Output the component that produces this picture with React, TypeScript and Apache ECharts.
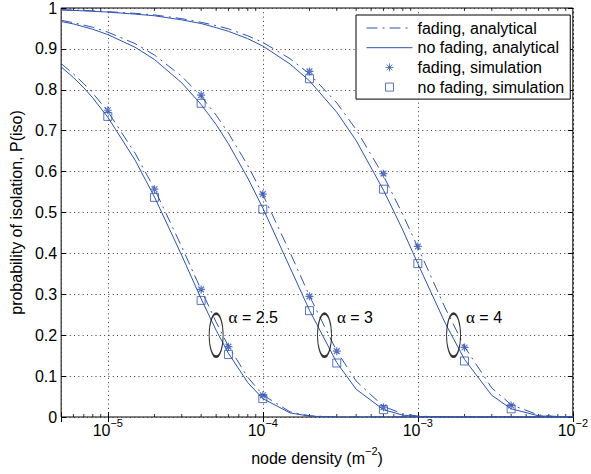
import React, { useEffect, useRef } from 'react';
import * as echarts from 'echarts';

// node densities (m^-2) at which the analytical curves are drawn
const densities = [
  5e-6, 6e-6, 7e-6, 8e-6, 1e-5, 1.5e-5, 2e-5, 3e-5, 4e-5, 5e-5, 6e-5, 8e-5,
  1e-4, 1.5e-4, 2e-4, 3e-4, 4e-4, 6e-4, 8e-4, 1e-3, 1.5e-3, 2e-3, 3e-3, 4e-3,
  6e-3, 8e-3, 1e-2,
];

// analytical curves
const fadingA25 = [0.864, 0.839, 0.815, 0.792, 0.747, 0.645, 0.558, 0.416, 0.311, 0.232, 0.173, 0.097, 0.054, 0.0125, 0.003, 0, 0, 0, 0, 0, 0, 0, 0, 0, 0, 0, 0];
const noFadingA25 = [0.856, 0.83, 0.805, 0.78, 0.733, 0.628, 0.538, 0.395, 0.289, 0.212, 0.156, 0.084, 0.045, 0.01, 0.002, 0, 0, 0, 0, 0, 0, 0, 0, 0, 0, 0, 0];
const fadingA3 = [0.97, 0.964, 0.958, 0.953, 0.941, 0.913, 0.885, 0.833, 0.784, 0.738, 0.694, 0.615, 0.544, 0.402, 0.296, 0.161, 0.088, 0.026, 0.0077, 0.0023, 0, 0, 0, 0, 0, 0, 0];
const noFadingA3 = [0.967, 0.961, 0.954, 0.948, 0.935, 0.904, 0.874, 0.817, 0.764, 0.715, 0.668, 0.584, 0.511, 0.365, 0.261, 0.133, 0.068, 0.018, 0.0046, 0.0012, 0, 0, 0, 0, 0, 0, 0];
const fadingA4 = [0.996, 0.995, 0.994, 0.993, 0.991, 0.987, 0.983, 0.974, 0.965, 0.957, 0.949, 0.932, 0.916, 0.876, 0.839, 0.768, 0.703, 0.59, 0.495, 0.415, 0.267, 0.172, 0.071, 0.03, 0.005, 0.001, 0.0002];
const noFadingA4 = [0.995, 0.994, 0.993, 0.992, 0.99, 0.985, 0.981, 0.971, 0.962, 0.952, 0.943, 0.925, 0.907, 0.863, 0.822, 0.745, 0.676, 0.555, 0.457, 0.375, 0.23, 0.141, 0.053, 0.02, 0.003, 0.0004, 0];

// simulation points
const simX = [1e-5, 2e-5, 4e-5, 6e-5, 1e-4, 4e-5, 1e-4, 2e-4, 3e-4, 6e-4, 2e-4, 6e-4, 1e-3, 2e-3, 4e-3];
const simFading = [0.75, 0.557, 0.312, 0.172, 0.053, 0.787, 0.545, 0.295, 0.161, 0.024, 0.845, 0.595, 0.417, 0.17, 0.028];
const simNoFading = [0.735, 0.537, 0.285, 0.153, 0.045, 0.767, 0.508, 0.26, 0.132, 0.018, 0.827, 0.557, 0.375, 0.137, 0.02];

// annotations (ellipse centres and labels)
const annotX = [5e-5, 2.5e-4, 1.7e-3];
const annotY = [0.2, 0.2, 0.2];
const annotText = ['2.5', '3', '4'];

// minor log-decade positions (2..9 x 10^k)
const minorX = [
  6e-6, 7e-6, 8e-6, 9e-6,
  2e-5, 3e-5, 4e-5, 5e-5, 6e-5, 7e-5, 8e-5, 9e-5,
  2e-4, 3e-4, 4e-4, 5e-4, 6e-4, 7e-4, 8e-4, 9e-4,
  2e-3, 3e-3, 4e-3, 5e-3, 6e-3, 7e-3, 8e-3, 9e-3,
];

const legendNames = ['fading, analytical', 'no fading, analytical', 'fading, simulation', 'no fading, simulation'];

const BLUE = '#2f52b4';
const FONT = 'Liberation Sans';
const DASHDOT = [11, 5, 2, 5];
const STAR = 'path://M0,-5L0,5M-5,0L5,0M-3.6,-3.6L3.6,3.6M-3.6,3.6L3.6,-3.6';
const SQUARE = 'path://M0,0L10,0L10,10L0,10Z';
const ELLIPSE = 'path://M0,-1A1,1 0 1,1 0,1A1,1 0 1,1 0,-1Z';

const zip = (xs: number[], ys: number[]) => xs.map((x, i) => [x, ys[i]]);

const supRich = {
  b: { fontSize: 16, lineHeight: 16, verticalAlign: 'bottom', color: '#000', fontFamily: FONT },
  s: { fontSize: 11, lineHeight: 11, padding: [0, 0, 10, 0], verticalAlign: 'bottom', color: '#000', fontFamily: FONT },
};

function lineSeries(name: string, ys: number[], dashed: boolean) {
  return {
    name,
    type: 'line',
    data: zip(densities, ys),
    symbol: 'none',
    showSymbol: false,
    color: BLUE,
    lineStyle: { width: 1, color: BLUE, type: dashed ? DASHDOT : 'solid' },
    z: 3,
    silent: true,
  };
}

export default function App() {
  const ref = useRef<HTMLDivElement>(null);
  useEffect(() => {
    const chart = echarts.init(ref.current!, null, { renderer: 'svg' });
    const tickData: any[] = [];
    minorX.forEach((x) => {
      tickData.push({ value: [x, 0], symbolOffset: [0, -1.5] });
      tickData.push({ value: [x, 1], symbolOffset: [0, 1.5] });
    });
    const logFormatter = (v: number) => {
      const l = Math.log10(v);
      const e = Math.round(l);
      if (Math.abs(l - e) > 1e-6) return '';
      return `{b|10}{s|\u2212${Math.abs(e)}}`;
    };
    const option: any = {
      animation: false,
      backgroundColor: '#fff',
      textStyle: { fontFamily: FONT },
      grid: {
        left: 57.5, right: 14, top: 7.5, bottom: 57,
        show: true, borderColor: '#000', borderWidth: 1, backgroundColor: 'transparent',
      },
      legend: {
        orient: 'vertical',
        left: 356, top: 15,
        padding: [5, 6, 4, 10],
        itemGap: 3.7,
        itemWidth: 46, itemHeight: 8,
        backgroundColor: '#fff',
        borderColor: '#000', borderWidth: 1,
        textStyle: { fontSize: 16, lineHeight: 16, color: '#000', fontFamily: FONT },
        lineStyle: { width: 1 },
        itemStyle: { borderWidth: 1 },
        selectedMode: false,
        data: [
          { name: legendNames[0], itemStyle: { opacity: 0 } },
          { name: legendNames[1], itemStyle: { opacity: 0 } },
          { name: legendNames[2] },
          { name: legendNames[3] },
        ],
      },
      xAxis: [
        {
          type: 'log', logBase: 10, min: 5e-6, max: 1e-2, position: 'bottom',
          axisLine: { show: false },
          axisTick: { show: true, inside: true, length: 5, lineStyle: { color: '#000' } },
          axisLabel: { formatter: logFormatter, margin: 5, rich: supRich },
          splitLine: { show: true, lineStyle: { type: [1, 3.3], color: '#333', width: 1 } },
          name: '{b|node density (m}{s|\u22122}{b|)}',
          nameLocation: 'middle', nameGap: 33,
          nameTextStyle: { rich: supRich },
        },
        {
          type: 'log', logBase: 10, min: 5e-6, max: 1e-2, position: 'top',
          axisLine: { show: false },
          axisTick: { show: true, inside: true, length: 5, lineStyle: { color: '#000' } },
          axisLabel: { show: false },
          splitLine: { show: false },
        },
      ],
      yAxis: [
        {
          type: 'value', min: 0, max: 1, interval: 0.1, position: 'left',
          axisLine: { show: false },
          axisTick: { show: true, inside: true, length: 5, lineStyle: { color: '#000' } },
          axisLabel: { fontSize: 16, color: '#000', margin: 4, fontFamily: FONT },
          splitLine: { show: true, lineStyle: { type: [1, 3.3], color: '#333', width: 1 } },
          name: 'probability of isolation, P(iso)',
          nameLocation: 'middle', nameGap: 33,
          nameTextStyle: { fontSize: 16, color: '#000', fontFamily: FONT },
        },
        {
          type: 'value', min: 0, max: 1, interval: 0.1, position: 'right',
          axisLine: { show: false },
          axisTick: { show: true, inside: true, length: 5, lineStyle: { color: '#000' } },
          axisLabel: { show: false },
          splitLine: { show: false },
        },
      ],
      series: [
        {
          name: 'minor',
          type: 'scatter',
          data: tickData,
          symbol: 'rect',
          symbolSize: [1, 3],
          itemStyle: { color: '#000' },
          clip: false,
          silent: true,
          z: 1,
          markLine: {
            silent: true,
            symbol: ['none', 'none'],
            label: { show: false },
            lineStyle: { type: [1, 3.3], color: '#333', width: 1 },
            data: minorX.map((x) => ({ xAxis: x })),
          },
        },
        lineSeries(legendNames[0], fadingA25, true),
        lineSeries(legendNames[0], fadingA3, true),
        lineSeries(legendNames[0], fadingA4, true),
        lineSeries(legendNames[1], noFadingA25, false),
        lineSeries(legendNames[1], noFadingA3, false),
        lineSeries(legendNames[1], noFadingA4, false),
        {
          name: legendNames[2],
          type: 'scatter',
          data: zip(simX, simFading),
          symbol: STAR,
          symbolSize: 8,
          itemStyle: { color: 'rgba(0,0,0,0)', borderColor: BLUE, borderWidth: 1.2 },
          z: 4,
          silent: true,
        },
        {
          name: legendNames[3],
          type: 'scatter',
          data: zip(simX, simNoFading),
          symbol: SQUARE,
          symbolSize: 8,
          itemStyle: { color: 'rgba(0,0,0,0)', borderColor: BLUE, borderWidth: 1 },
          z: 4,
          silent: true,
        },
        {
          name: 'annotations',
          type: 'scatter',
          data: annotX.map((x, i) => ({ value: [x, annotY[i]], label: { formatter: `{g|\u03b1}{t| = ${annotText[i]}}` } })),
          symbol: ELLIPSE,
          symbolSize: [14, 43],
          itemStyle: { color: 'rgba(0,0,0,0)', borderColor: '#000', borderWidth: 1.6 },
          label: {
            show: true, position: 'right', distance: 5, offset: [0, -18],
            color: '#000', opacity: 1,
            rich: {
              g: { fontSize: 17, fontFamily: 'Liberation Serif', color: '#000' },
              t: { fontSize: 16, fontFamily: FONT, color: '#000' },
            },
          },
          emphasis: { disabled: true },
          z: 5,
          silent: true,
        },
      ],
    };
    chart.setOption(option);
    return () => chart.dispose();
  }, []);
  return (
    <div
      ref={ref}
      style={{ position: 'fixed', left: 0, top: 0, width: 591, height: 474, background: '#fff' }}
    />
  );
}
